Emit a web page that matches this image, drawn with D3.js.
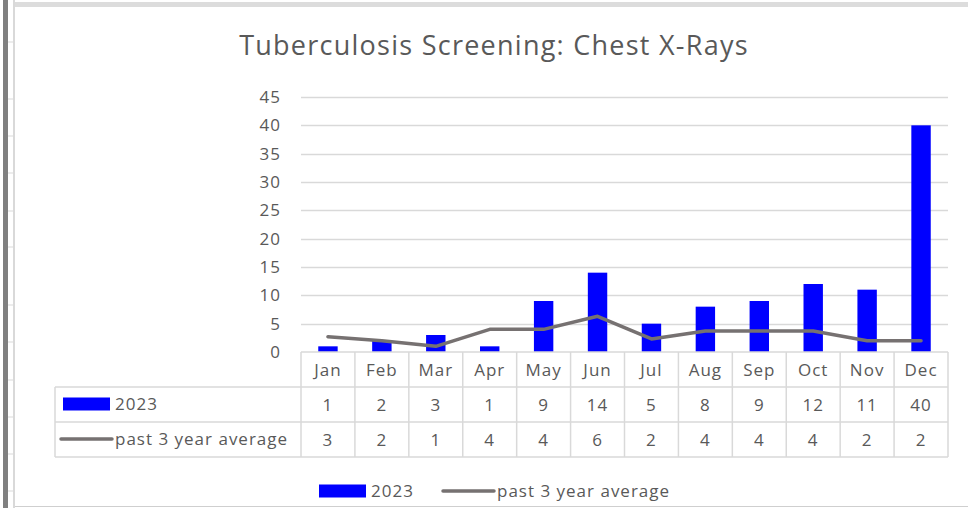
<!DOCTYPE html>
<html>
<head>
<meta charset="utf-8">
<script src="https://cdn.jsdelivr.net/npm/d3@7"></script>
<style>
  body { margin: 0; background: #fff; }
  text { font-family: "Open Sans", Lato, sans-serif; fill: #595959; }
</style>
</head>
<body>
<svg id="chart"></svg>
<script>
    var w = 968;
    var h = 508;

    // data
    var months = ["Jan", "Feb", "Mar", "Apr", "May", "Jun", "Jul", "Aug", "Sep", "Oct", "Nov", "Dec"];
    var counts2023 = [1, 2, 3, 1, 9, 14, 5, 8, 9, 12, 11, 40];
    var avg3yr = [2.7, 2, 1, 4, 4, 6.3, 2.3, 3.7, 3.7, 3.7, 2, 2];
    var yTicks = [0, 5, 10, 15, 20, 25, 30, 35, 40, 45];
    var seriesNames = ["2023", "past 3 year average"];

    // spreadsheet row lines peeking at the left edge
    var sheetRows = [42, 99, 136, 173, 211, 247, 305, 342, 380, 417, 454, 491];

    var barColor = "#0000ff";
    var lineColor = "#767171";
    var gridColor = "#d9d9d9";
    var smallFont = "17px";
    var spacing = "1px";

    var svg = d3.select("#chart").attr("width", w).attr("height", h);

    // sheet decoration
    svg.append("rect").attr("x", 3).attr("y", 0).attr("width", 5).attr("height", h).attr("fill", "#808080");
    svg.append("line").attr("x1", 14).attr("x2", 14).attr("y1", 0).attr("y2", h)
        .attr("stroke", gridColor).attr("stroke-width", 2);
    svg.selectAll(".sheetRow")
        .data(sheetRows)
        .enter()
        .append("line")
        .attr("class", "sheetRow")
        .attr("x1", 8).attr("x2", 14)
        .attr("y1", function(d){ return d; })
        .attr("y2", function(d){ return d; })
        .attr("stroke", gridColor).attr("stroke-width", 1);
    svg.append("rect").attr("x", 15).attr("y", 2).attr("width", w - 15).attr("height", 5).attr("fill", "#dcdcdc");
    svg.append("line").attr("x1", 15).attr("x2", w).attr("y1", 506.5).attr("y2", 506.5)
        .attr("stroke", "#cfcfcf").attr("stroke-width", 1);

    // title
    svg.append("text")
        .attr("x", 494)
        .attr("y", 55)
        .attr("text-anchor", "middle")
        .style("font-size", "27px")
        .style("letter-spacing", "1.25px")
        .text("Tuberculosis Screening: Chest X-Rays");

    var x = d3.scaleBand().domain(months).range([301, 948]).padding(0);
    var y = d3.scaleLinear().domain([0, 45]).range([352, 97]);

    // gridlines
    svg.selectAll(".grid")
        .data(yTicks.filter(function(d){ return d > 0; }))
        .enter()
        .append("line")
        .attr("class", "grid")
        .attr("x1", 301).attr("x2", 948)
        .attr("y1", function(d){ return Math.round(y(d)) + 0.5; })
        .attr("y2", function(d){ return Math.round(y(d)) + 0.5; })
        .attr("stroke", gridColor).attr("stroke-width", 1.5);

    // y axis labels
    var yAxis = d3.axisLeft(y).tickValues(yTicks).tickSize(0).tickPadding(20);
    var gy = svg.append("g").attr("transform", "translate(301,0)").call(yAxis);
    gy.select(".domain").remove();
    gy.selectAll("text")
        .style("font-size", smallFont)
        .style("letter-spacing", spacing)
        .attr("fill", "#595959")
        .style("font-family", "'Open Sans', sans-serif");

    // bars
    var barW = x.bandwidth() * 0.36;
    svg.selectAll(".bar")
        .data(counts2023)
        .enter()
        .append("rect")
        .attr("class", "bar")
        .attr("x", function(d, i){ return x(months[i]) + (x.bandwidth() - barW) / 2; })
        .attr("y", function(d){ return y(d); })
        .attr("width", barW)
        .attr("height", function(d){ return y(0) - y(d); })
        .attr("fill", barColor);

    // average line
    var line = d3.line()
        .x(function(d, i){ return x(months[i]) + x.bandwidth() / 2; })
        .y(function(d){ return y(d); });
    svg.append("path")
        .datum(avg3yr)
        .attr("d", line)
        .attr("fill", "none")
        .attr("stroke", lineColor)
        .attr("stroke-width", 3.5)
        .attr("stroke-linejoin", "round")
        .attr("stroke-linecap", "round");

    // data table
    var rowTop = [352, 387, 422, 457];
    var tableLeft = 55;
    var tbl = svg.append("g").attr("stroke", gridColor).attr("stroke-width", 1.5);
    tbl.append("line").attr("x1", 301).attr("x2", 948).attr("y1", rowTop[0]).attr("y2", rowTop[0]);
    rowTop.slice(1).forEach(function(r){
        tbl.append("line").attr("x1", tableLeft).attr("x2", 948).attr("y1", r).attr("y2", r);
    });
    tbl.append("line").attr("x1", tableLeft).attr("x2", tableLeft).attr("y1", rowTop[1]).attr("y2", rowTop[3]);
    months.forEach(function(m){
        tbl.append("line").attr("x1", x(m)).attr("x2", x(m)).attr("y1", rowTop[0]).attr("y2", rowTop[3]);
    });
    tbl.append("line").attr("x1", 948).attr("x2", 948).attr("y1", rowTop[0]).attr("y2", rowTop[3]);

    function cellText(values, row){
        svg.selectAll(".cell" + row)
            .data(values)
            .enter()
            .append("text")
            .attr("class", "cell" + row)
            .attr("x", function(d, i){ return x(months[i]) + x.bandwidth() / 2; })
            .attr("y", (rowTop[row] + rowTop[row + 1]) / 2 + 6)
            .attr("text-anchor", "middle")
            .style("font-size", smallFont)
            .style("letter-spacing", spacing)
            .text(function(d){ return typeof d === "number" ? Math.round(d) : d; });
    }
    cellText(months, 0);
    cellText(counts2023, 1);
    cellText(avg3yr, 2);

    // legend keys (table rows and bottom legend)
    function legendKey(kx, ky, i){
        if (i == 0) {
            svg.append("rect").attr("x", kx).attr("y", ky - 6.5).attr("width", 47).attr("height", 13).attr("fill", barColor);
        } else {
            svg.append("line").attr("x1", kx - 2).attr("x2", kx + 49).attr("y1", ky).attr("y2", ky)
                .attr("stroke", lineColor).attr("stroke-width", 3.5).attr("stroke-linecap", "round");
        }
        svg.append("text").attr("x", kx + 52).attr("y", ky + 6)
            .style("font-size", smallFont)
            .style("letter-spacing", spacing)
            .text(seriesNames[i]);
    }
    legendKey(63, 404, 0);
    legendKey(63, 439, 1);

    legendKey(319, 491, 0);
    legendKey(445, 491, 1);
</script>
</body>
</html>
